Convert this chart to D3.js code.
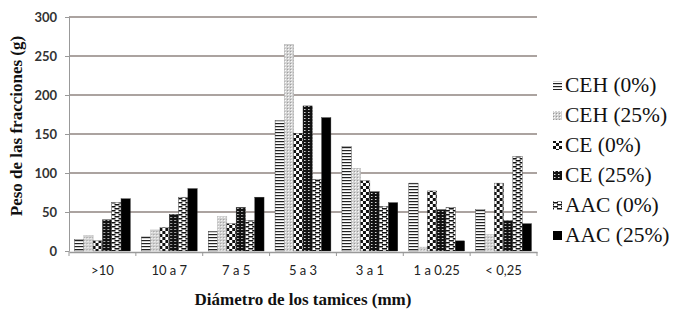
<!DOCTYPE html>
<meta charset="utf-8">
<head>
  <title>Peso de las fracciones</title>
  <script src="https://d3js.org/d3.v7.min.js"></script>
</head>
<style>
body { margin: 0; background: #fff; }
.grid line { stroke: #8f8480; stroke-width: 1.6px; }
.tick-y text { font-family: Lato, "Liberation Sans", sans-serif; font-weight: bold; font-size: 13px; fill: #333; }
.tick-x text { font-family: Lato, "Liberation Sans", sans-serif; font-size: 13px; fill: #222; }
.title { font-family: "Liberation Serif", serif; font-weight: bold; font-size: 17px; fill: #111; }
.legend text { font-family: "Liberation Serif", serif; font-size: 21.5px; fill: #111; }
</style>
<body>
<script>

// data
var categories = [">10", "10 a 7", "7 a 5", "5 a 3", "3 a 1", "1 a 0.25", "< 0,25"];
var series = ["CEH (0%)", "CEH (25%)", "CE (0%)", "CE (25%)", "AAC (0%)", "AAC (25%)"];
var ceh0  = [15, 18, 25, 167, 134, 87, 53];
var ceh25 = [20, 27, 44, 265, 106, 5, 21];
var ce0   = [13, 30, 35, 151, 90, 77, 87];
var ce25  = [40, 47, 56, 186, 76, 53, 39];
var aac0  = [62, 69, 39, 92, 57, 56, 121];
var aac25 = [67, 80, 69, 171, 62, 13, 35];
var yTicks = [0, 50, 100, 150, 200, 250, 300];

var values = [ceh0, ceh25, ce0, ce25, aac0, aac25];

var width = 676,
    height = 314,
    plotLeft = 69, plotRight = 537, plotTop = 17, plotBottom = 251;

var svg = d3.select("body").append("svg")
    .attr("width", width)
    .attr("height", height);

// fill patterns, one per series
var defs = svg.append("defs");

function pattern(id, w, h, bg, rects) {
  var p = defs.append("pattern")
      .attr("id", id)
      .attr("patternUnits", "userSpaceOnUse")
      .attr("width", w)
      .attr("height", h);
  p.append("rect").attr("width", w).attr("height", h).attr("fill", bg);
  rects.forEach(function(r) {
    p.append("rect")
        .attr("x", r[0]).attr("y", r[1])
        .attr("width", r[2]).attr("height", r[3])
        .attr("fill", r[4]);
  });
}

pattern("p0", 4, 3, "#fff", [[0, 0, 4, 1.2, "#222"]]);
pattern("p1", 3, 3, "#d2d2d2", [[1, 1, 1, 1, "#fff"], [0, 0, 1, 1, "#999"]]);
pattern("p2", 6, 6, "#fff", [[0, 0, 3, 3, "#111"], [3, 3, 3, 3, "#111"]]);
pattern("p3", 4, 3, "#111", [[1, 1, 1.5, 1, "#ddd"]]);
pattern("p4", 8, 4, "#fff", [[0, 0, 5, 1.5, "#111"], [4, 2, 5, 1.5, "#111"], [-4, 2, 5, 1.5, "#111"]]);
pattern("p5", 4, 4, "#000", []);

var fills = ["url(#p0)", "url(#p1)", "url(#p2)", "url(#p3)", "url(#p4)", "url(#p5)"];

var y = d3.scaleLinear()
    .domain([0, 300])
    .range([plotBottom, plotTop]);

var x0 = d3.scaleBand()
    .domain(categories)
    .range([plotLeft, plotRight])
    .paddingInner(0.165)
    .paddingOuter(0.0825);

var x1 = d3.scaleBand()
    .domain(series)
    .range([0, x0.bandwidth()]);

// gridlines
svg.append("g")
    .attr("class", "grid")
  .selectAll("line")
  .data(yTicks.slice(1))
  .enter().append("line")
    .attr("x1", plotLeft)
    .attr("x2", plotRight)
    .attr("y1", function(d) { return y(d); })
    .attr("y2", function(d) { return y(d); });

// y axis
var yAxis = svg.append("g")
    .attr("class", "tick-y")
    .attr("transform", "translate(" + plotLeft + ",0)")
    .call(d3.axisLeft(y).tickValues(yTicks).tickSize(4).tickPadding(8));
yAxis.select(".domain").attr("stroke", "#999");
yAxis.selectAll(".tick line").attr("stroke", "#999");

// bars
var groups = svg.append("g")
  .selectAll("g")
  .data(categories)
  .enter().append("g")
    .attr("transform", function(d) { return "translate(" + x0(d) + ",0)"; });

groups.selectAll("rect")
  .data(function(d, i) {
    return series.map(function(s, j) { return {s: s, j: j, v: values[j][i]}; });
  })
  .enter().append("rect")
    .attr("x", function(d) { return x1(d.s); })
    .attr("width", x1.bandwidth())
    .attr("y", function(d) { return y(d.v); })
    .attr("height", function(d) { return y(0) - y(d.v); })
    .attr("fill", function(d) { return fills[d.j]; })
    .attr("stroke", function(d) { return d.j == 1 ? "#aaa" : "#333"; })
    .attr("stroke-width", 0.4);

// x axis
var xAxis = svg.append("g")
    .attr("class", "tick-x")
    .attr("transform", "translate(0," + (plotBottom + 1) + ")")
    .call(d3.axisBottom(x0).tickSize(0).tickPadding(14));
xAxis.select(".domain").attr("stroke", "#999").attr("stroke-width", 1.5);
xAxis.selectAll(".sep")
  .data(d3.range(categories.length + 1))
  .enter().append("line")
    .attr("x1", function(i) { return plotLeft + i * x0.step(); })
    .attr("x2", function(i) { return plotLeft + i * x0.step(); })
    .attr("y1", 0).attr("y2", 4)
    .attr("stroke", "#999");

// titles
svg.append("text")
    .attr("class", "title")
    .attr("x", 303)
    .attr("y", 305)
    .attr("text-anchor", "middle")
    .text("Diámetro de los tamices (mm)");

svg.append("text")
    .attr("class", "title")
    .attr("transform", "translate(22," + 126 + ") rotate(-90)")
    .attr("text-anchor", "middle")
    .text("Peso de las fracciones (g)");

// legend
var legend = svg.append("g")
    .attr("class", "legend")
  .selectAll("g")
  .data(series)
  .enter().append("g")
    .attr("transform", function(d, i) { return "translate(553," + (86 + i * 30) + ")"; });

legend.append("rect")
    .attr("y", -5)
    .attr("width", 9)
    .attr("height", 9)
    .attr("fill", function(d, i) { return fills[i]; });

legend.append("text")
    .attr("x", 12)
    .attr("y", 6)
    .text(function(d) { return d; });

</script>
</body>
